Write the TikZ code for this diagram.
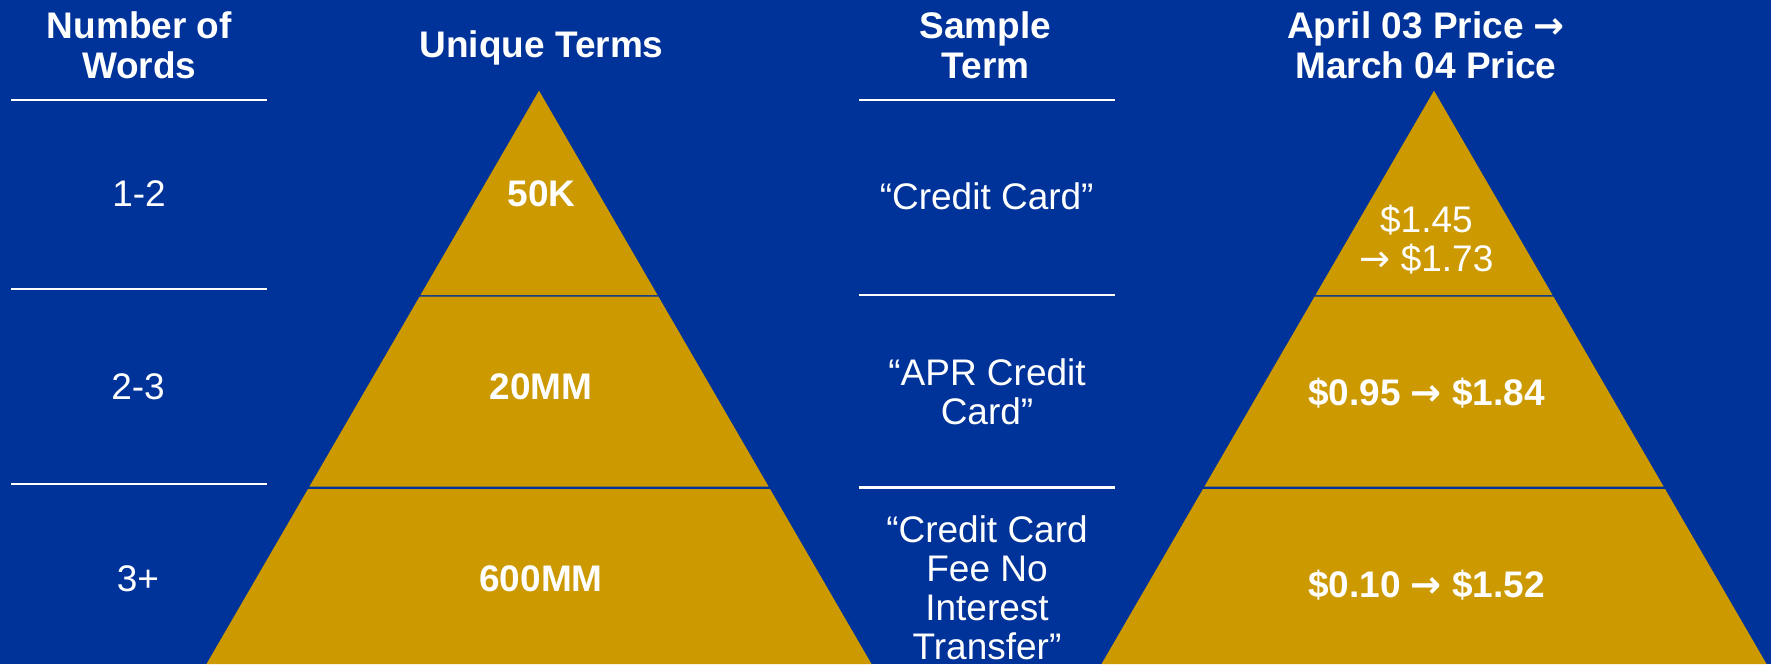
\documentclass[tikz,border=0pt]{standalone}
\usepackage{fontspec}
\setmainfont{Liberation Sans}
\newfontfamily\arrowfont{DejaVu Sans}
\newcommand\priceto{{\arrowfont →}}
\definecolor{slideblue}{HTML}{003399}
\definecolor{tiergold}{HTML}{CC9900}
\tikzset{
  colhead/.style={font=\fontsize{37}{40}\selectfont\bfseries, text=white, align=center, inner sep=0pt},
  celltext/.style={font=\fontsize{37}{39}\selectfont, text=white, align=center, inner sep=0pt},
  tierlabel/.style={celltext, font=\fontsize{37}{39}\selectfont\bfseries},
  sepline/.style={white, line width=2.5pt},
  tierfill/.style={fill=tiergold},
}
\begin{document}
\begin{tikzpicture}[x=1pt, y=-1pt]
  \fill[slideblue] (0,0) rectangle (1771,664);
  % the two pyramids, three tiers each
  \foreach \cx in {539, 1434} {
    \foreach \ya/\yb in {90.7/295, 296.7/486.7, 489/664} {
      \fill[tierfill] ({\cx-0.58*(\ya-90.7)}, \ya) -- ({\cx+0.58*(\ya-90.7)}, \ya)
        -- ({\cx+0.58*(\yb-90.7)}, \yb) -- ({\cx-0.58*(\yb-90.7)}, \yb) -- cycle;
    }
  }
  % rules under the text columns
  \foreach \y in {100, 289, 484} {
    \draw[sepline] (11,\y) -- (267,\y);
  }
  \foreach \y in {100, 295, 487.5} {
    \draw[sepline] (859,\y) -- (1115,\y);
  }
  % headings
  \node[colhead, anchor=north] (words) at (139.3,11.7) {Number of\\Words};
  \node[colhead, anchor=base] (unique) at (541.5,57.3) {Unique Terms};
  \node[colhead, anchor=north] (sample) at (985.5,11.7) {Sample\\Term};
  \node[colhead, anchor=north] (price) at (1426,11.7) {April 03 Price \priceto\\March 04 Price};
  % word counts
  \node[celltext, anchor=base] (w1) at (139,206.7) {1-2};
  \node[celltext, anchor=base] (w2) at (138,399.3) {2-3};
  \node[celltext, anchor=base] (w3) at (138,591.7) {3+};
  % unique term counts
  \node[tierlabel, anchor=base] (u1) at (541.5,206.7) {50K};
  \node[tierlabel, anchor=base] (u2) at (541,399.3) {20MM};
  \node[tierlabel, anchor=base] (u3) at (541,591.7) {600MM};
  % sample terms
  \node[celltext, anchor=base] (s1) at (986.7,209) {“Credit Card”};
  \node[celltext, anchor=north] (s2) at (987,358.3) {“APR Credit\\Card”};
  \node[celltext, anchor=north] (s3) at (987,515) {“Credit Card\\Fee No\\Interest\\Transfer”};
  % prices
  \node[celltext, anchor=north] (p1) at (1426.4,205) {\$1.45\\\priceto{} \$1.73};
  \node[tierlabel, anchor=base] (p2) at (1426.4,405) {\$0.95 \priceto{} \$1.84};
  \node[tierlabel, anchor=base] (p3) at (1426.4,597) {\$0.10 \priceto{} \$1.52};
\end{tikzpicture}
\end{document}
